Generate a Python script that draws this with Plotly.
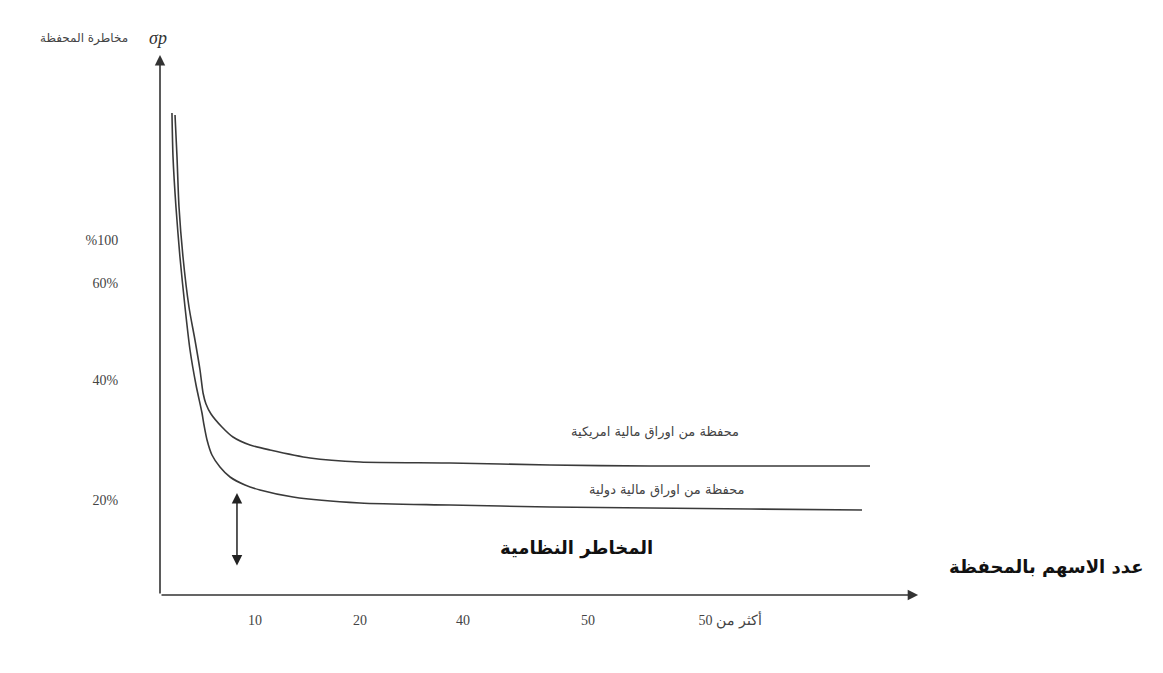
import plotly.graph_objects as go

# ---- data (axis units are the drawing's own scale) ----
# x: position along "number of stocks" axis ; y: portfolio risk level
us_x = [1.43, 1.62, 1.81, 2.19, 2.76, 3.33, 3.81, 4.10, 4.38, 4.86, 5.90, 6.95, 8.57, 10.48, 14.29, 19.05, 27.62, 37.14, 46.67, 56.19, 67.62]
us_y = [96.0, 87.6, 77.6, 67.6, 57.6, 51.0, 45.0, 40.4, 38.2, 36.2, 33.6, 31.6, 30.0, 29.0, 27.4, 26.6, 26.4, 26.0, 25.8, 25.8, 25.8]

intl_x = [1.14, 1.24, 1.52, 1.90, 2.38, 2.86, 3.43, 4.00, 4.19, 4.48, 4.95, 5.71, 6.67, 8.10, 9.52, 12.67, 19.05, 27.62, 37.14, 46.67, 56.19, 66.86]
intl_y = [96.4, 87.6, 77.6, 67.6, 57.6, 49.0, 42.0, 36.4, 34.0, 31.0, 28.0, 25.6, 23.6, 22.0, 21.0, 19.6, 18.4, 18.0, 17.6, 17.4, 17.2, 17.0]

x_tick_pos = [9.05, 19.05, 28.86, 40.76, 54.29]
x_tick_text = ["10", "20", "40", "50", "أكثر من 50"]
y_tick_pos = [19.0, 43.0, 62.4, 71.0]
y_tick_text = ["20%", "40%", "60%", "%100"]

us_label = "محفظة من اوراق مالية امريكية"
intl_label = "محفظة من اوراق مالية دولية"
systematic_label = "المخاطر النظامية"
x_title = "عدد الاسهم بالمحفظة"
y_title = "مخاطرة المحفظة"

X_MAX, Y_MAX = 72.38, 109.0
line_col = "#3a3a3a"

fig = go.Figure()
fig.add_trace(go.Scatter(x=us_x, y=us_y, mode="lines", line=dict(color=line_col, width=1.6, shape="spline", smoothing=0.7), name=us_label, hoverinfo="skip"))
fig.add_trace(go.Scatter(x=intl_x, y=intl_y, mode="lines", line=dict(color=line_col, width=1.6, shape="spline", smoothing=0.7), name=intl_label, hoverinfo="skip"))

ann = []
# axes with arrowheads
ann.append(dict(x=0, y=108.0, ax=0, ay=0, xref="x", yref="y", axref="x", ayref="y", showarrow=True,
                arrowhead=2, arrowsize=1.3, arrowwidth=1.6, arrowcolor="#333", text=""))
ann.append(dict(x=72.2, y=0, ax=0, ay=0, xref="x", yref="y", axref="x", ayref="y", showarrow=True,
                arrowhead=2, arrowsize=1.3, arrowwidth=1.6, arrowcolor="#333", text=""))
# systematic risk double arrow
ann.append(dict(x=7.33, y=20.4, ax=7.33, ay=5.6, xref="x", yref="y", axref="x", ayref="y", showarrow=True,
                arrowhead=2, startarrowhead=2, arrowside="end+start", arrowsize=1.4, startarrowsize=1.4,
                arrowwidth=1.5, arrowcolor="#222", text=""))
# texts
ann.append(dict(x=47.1, y=32.6, xref="x", yref="y", text=us_label, showarrow=False,
                font=dict(family="DejaVu Sans", size=13, color="#444")))
ann.append(dict(x=48.3, y=21.0, xref="x", yref="y", text=intl_label, showarrow=False,
                font=dict(family="DejaVu Sans", size=13, color="#444")))
ann.append(dict(x=39.7, y=9.4, xref="x", yref="y", text="<b>" + systematic_label + "</b>", showarrow=False,
                font=dict(family="DejaVu Sans", size=18, color="#111")))
ann.append(dict(x=1046, y=567, xref="paper", yref="paper", text="<b>" + x_title + "</b>", showarrow=False,
                font=dict(family="DejaVu Sans", size=18, color="#111")))
ann.append(dict(x=84, y=38, xref="paper", yref="paper", text=y_title, showarrow=False,
                font=dict(family="DejaVu Sans", size=12, color="#444")))
ann.append(dict(x=158, y=38, xref="paper", yref="paper", text="<i>σp</i>", showarrow=False,
                font=dict(family="Liberation Serif", size=18, color="#333")))

# page has an 8px body offset; plot area should sit at screen px 160..920 x 50..595
OFF = 8
W, H = 1163, 673
ML, MT = 160 - OFF, 50 - OFF
MR = W - (920 - OFF)
MB = H - (595 - OFF)
for a in ann:
    if a.get("xref") == "paper":
        a["x"] = (a["x"] - OFF - ML) / (W - ML - MR)
        a["y"] = 1 - (a["y"] - OFF - MT) / (H - MT - MB)
        a["xanchor"] = "center"
        a["yanchor"] = "middle"

fig.update_layout(
    width=W, height=H,
    margin=dict(l=ML, r=MR, t=MT, b=MB),
    paper_bgcolor="white", plot_bgcolor="white",
    showlegend=False,
    annotations=ann,
    xaxis=dict(range=[0, X_MAX], showgrid=False, zeroline=False, showline=False,
               tickmode="array", tickvals=x_tick_pos, ticktext=x_tick_text,
               ticks="outside", ticklen=12, tickcolor="rgba(0,0,0,0)",
               tickfont=dict(family="Liberation Serif", size=14, color="#444")),
    yaxis=dict(range=[0, Y_MAX], showgrid=False, zeroline=False, showline=False,
               tickmode="array", tickvals=y_tick_pos, ticktext=y_tick_text,
               ticks="outside", ticklen=38, tickcolor="rgba(0,0,0,0)",
               tickfont=dict(family="Liberation Serif", size=14, color="#444")),
)

fig.write_html("out.html")
